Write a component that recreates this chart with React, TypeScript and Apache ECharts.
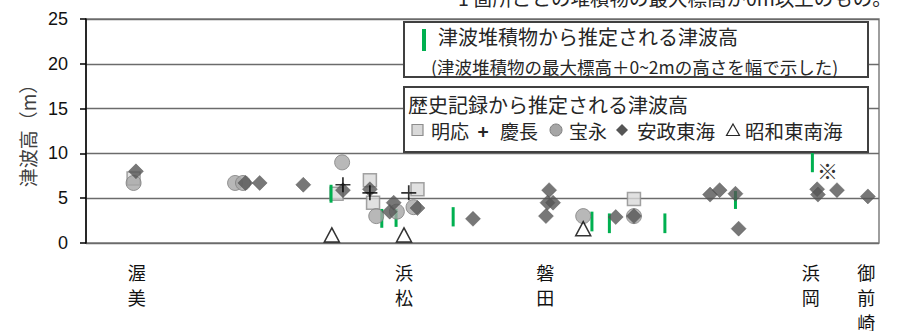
import React, { useEffect, useRef } from "react";
import * as echarts from "echarts";

// positions along the coast (0 = west edge of chart, 100 = east edge)
const placeNames = ["渥美", "浜松", "磐田", "浜岡", "御前崎"];
const placePos = [6.4, 40.1, 57.9, 91.4, 98.4];

const yTicks = [0, 5, 10, 15, 20, 25];

// [position, height(m)]
const meiou: number[][] = [
  [6.0, 7.2], [31.6, 5.5], [35.8, 7.0], [36.2, 4.5], [41.8, 6.0], [69.1, 4.9],
];
const keichou: number[][] = [
  [32.4, 6.5], [35.8, 5.6], [40.7, 5.6],
];
const houei: number[][] = [
  [6.0, 6.7], [18.8, 6.7], [19.8, 6.7], [32.3, 9.0], [36.6, 3.0], [39.2, 3.5],
  [41.3, 4.0], [62.7, 3.0], [69.1, 3.0],
];
const ansei: number[][] = [
  [6.3, 8.0], [20.1, 6.7], [21.9, 6.7], [27.4, 6.5], [32.4, 5.9], [35.8, 6.0],
  [38.3, 3.5], [38.8, 4.5], [41.8, 3.9], [48.8, 2.7], [58.4, 5.9], [58.2, 4.5],
  [58.9, 4.5], [58.0, 3.0], [66.8, 2.9], [69.1, 3.0], [78.7, 5.4], [79.9, 5.9],
  [81.9, 5.5], [82.3, 1.6], [92.2, 6.0], [92.3, 5.4], [94.7, 5.9], [98.6, 5.2],
];
const showa: number[][] = [
  [31.0, 0.9], [40.1, 0.9], [62.7, 1.6],
];
// [position, low, high] tsunami deposit range
const deposit: number[][] = [
  [30.9, 4.5, 6.5], [37.3, 1.7, 3.8], [39.1, 1.8, 3.8], [46.3, 1.85, 4.0],
  [63.8, 1.3, 3.5], [66.0, 1.1, 3.3], [73.0, 1.1, 3.3], [81.9, 3.8, 5.8],
  [91.6, 7.9, 10.1],
];
const noteMark: number[][] = [[93.5, 8.2]];

const CJK = '"Noto Sans CJK JP", "Noto Sans", sans-serif';
const NUM = '"Liberation Sans", Arial, sans-serif';
const TXT = "#262626";

export default function App() {
  const ref = useRef<HTMLDivElement>(null);
  useEffect(() => {
    if (!ref.current) return;
    const chart = echarts.init(ref.current, null, { renderer: "svg" });
    const legendY2 = 130;
    const option: any = {
      animation: false,
      backgroundColor: "#fff",
      grid: {
        left: 86, right: 18, top: 19, bottom: 88,
        containLabel: false, outerBoundsMode: "none",
        show: true, borderColor: "#7f7f7f", borderWidth: 1.5,
      },
      xAxis: {
        type: "value", min: 0, max: 100,
        axisLine: { show: false }, axisTick: { show: false },
        splitLine: { show: false },
        axisLabel: {
          show: true,
          customValues: placePos,
          margin: 16,
          fontFamily: CJK, fontSize: 18, lineHeight: 25, color: "#111",
          formatter: (v: number) => {
            let best = 0;
            placePos.forEach((p, i) => { if (Math.abs(p - v) < Math.abs(placePos[best] - v)) best = i; });
            return placeNames[best].split("").join("\n");
          },
        },
      },
      yAxis: {
        type: "value", min: 0, max: 25, interval: 5,
        name: "津波高（m）", nameLocation: "middle", nameGap: 48, nameRotate: 90,
        nameTextStyle: { fontFamily: CJK, fontSize: 19, color: "#404040" },
        axisLine: { show: true, lineStyle: { color: "#000", width: 1.5 } },
        axisTick: { show: true, length: 6, lineStyle: { color: "#000", width: 1.5 } },
        axisLabel: {
          margin: 18, fontFamily: NUM, fontSize: 18, color: "#111",
          formatter: (v: number) => (yTicks.includes(v) ? String(v) : ""),
        },
        splitLine: { show: true, lineStyle: { color: "#6b6b6b", width: 1.4 } },
      },
      series: [
        {
          type: "scatter", name: "明応", data: meiou, z: 2,
          symbol: "rect", symbolSize: 13,
          itemStyle: { color: "#d9d9d9", borderColor: "#8c8c8c", borderWidth: 1.5 },
        },
        {
          type: "custom", name: "津波堆積物", data: deposit, z: 3,
          encode: { x: 0, y: [1, 2] },
          itemStyle: { color: "#00b050" },
          renderItem: (params: any, api: any) => {
            const a = api.coord([api.value(0), api.value(2)]);
            const b = api.coord([api.value(0), api.value(1)]);
            return {
              type: "line",
              shape: { x1: a[0], y1: a[1], x2: b[0], y2: b[1] },
              style: { stroke: "#00b050", lineWidth: 3 },
            };
          },
        },
        {
          type: "scatter", name: "宝永", data: houei, z: 4,
          symbol: "circle", symbolSize: 15,
          itemStyle: { color: "#a6a6a6", borderColor: "#7f7f7f", borderWidth: 1 },
        },
        {
          type: "scatter", name: "安政東海", data: ansei, z: 5,
          symbol: "diamond", symbolSize: 15,
          itemStyle: { color: "#555555", borderColor: "#4d4d4d", borderWidth: 0.5 },
        },
        {
          type: "scatter", name: "昭和東南海", data: showa, z: 6,
          symbol: "triangle", symbolSize: [15, 14],
          itemStyle: { color: "#fff", borderColor: "#000", borderWidth: 1.5 },
        },
        {
          type: "scatter", name: "慶長", data: keichou, z: 7,
          symbol: "path://M6.2,0h1.6v6.2h6.2v1.6h-6.2v6.2h-1.6v-6.2h-6.2v-1.6h6.2z",
          symbolSize: 15, symbolKeepAspect: true,
          itemStyle: { color: "#000" },
        },
        {
          type: "custom", name: "注", data: noteMark, z: 7,
          encode: { x: 0, y: 1 },
          itemStyle: { color: "#333333" },
          renderItem: (params: any, api: any) => {
            const p = api.coord([api.value(0), api.value(1)]);
            return {
              type: "text", x: p[0], y: p[1],
              style: { text: "※", fontFamily: CJK, fontSize: 21, fill: "#333333", align: "center", verticalAlign: "middle" },
            };
          },
        },
      ],
      graphic: [
        {
          type: "text", right: 5, top: -12, z: 100,
          style: { text: "1 箇所ごとの堆積物の最大標高が0m以上のもの。", fontFamily: CJK, fontSize: 19.5, fill: TXT },
        },
        {
          type: "rect", z: 100,
          shape: { x: 404, y: 22, width: 464, height: 55 },
          style: { fill: "#fff", stroke: "#404040", lineWidth: 2 },
        },
        {
          type: "rect", z: 101,
          shape: { x: 422, y: 29, width: 4, height: 22 },
          style: { fill: "#00b050" },
        },
        {
          type: "text", x: 438, y: 36, z: 101,
          style: { text: "津波堆積物から推定される津波高", fontFamily: CJK, fontSize: 20, fill: TXT, verticalAlign: "middle" },
        },
        {
          type: "text", x: 431, y: 66, z: 101,
          style: { text: "(津波堆積物の最大標高＋0~2mの高さを幅で示した)", fontFamily: CJK, fontSize: 17.5, fill: TXT, verticalAlign: "middle" },
        },
        {
          type: "rect", z: 100,
          shape: { x: 404, y: 87, width: 464, height: 65 },
          style: { fill: "#fff", stroke: "#404040", lineWidth: 2 },
        },
        {
          type: "text", x: 408, y: 104, z: 101,
          style: { text: "歴史記録から推定される津波高", fontFamily: CJK, fontSize: 20, fill: TXT, verticalAlign: "middle" },
        },
        {
          type: "rect", z: 101,
          shape: { x: 412, y: legendY2 - 5.5, width: 11, height: 11 },
          style: { fill: "#d9d9d9", stroke: "#8c8c8c", lineWidth: 1.2 },
        },
        {
          type: "text", x: 431, y: legendY2, z: 101,
          style: { text: "明応", fontFamily: CJK, fontSize: 19, fill: TXT, verticalAlign: "middle" },
        },
        {
          type: "text", x: 483, y: legendY2, z: 101,
          style: { text: "+", fontFamily: CJK, fontSize: 19, fontWeight: "bold", fill: TXT, align: "center", verticalAlign: "middle" },
        },
        {
          type: "text", x: 500, y: legendY2, z: 101,
          style: { text: "慶長", fontFamily: CJK, fontSize: 19, fill: TXT, verticalAlign: "middle" },
        },
        {
          type: "circle", z: 101,
          shape: { cx: 556, cy: legendY2, r: 6 },
          style: { fill: "#a6a6a6", stroke: "#7f7f7f", lineWidth: 1 },
        },
        {
          type: "text", x: 569, y: legendY2, z: 101,
          style: { text: "宝永", fontFamily: CJK, fontSize: 19, fill: TXT, verticalAlign: "middle" },
        },
        {
          type: "polygon", z: 101,
          shape: { points: [[622, legendY2 - 6], [628, legendY2], [622, legendY2 + 6], [616, legendY2]] },
          style: { fill: "#555555" },
        },
        {
          type: "text", x: 637, y: legendY2, z: 101,
          style: { text: "安政東海", fontFamily: CJK, fontSize: 19.5, fill: TXT, verticalAlign: "middle" },
        },
        {
          type: "polygon", z: 101,
          shape: { points: [[733, legendY2 - 6], [739.5, legendY2 + 5.5], [726.5, legendY2 + 5.5]] },
          style: { fill: "#fff", stroke: "#262626", lineWidth: 1.2 },
        },
        {
          type: "text", x: 745, y: legendY2, z: 101,
          style: { text: "昭和東南海", fontFamily: CJK, fontSize: 19.5, fill: TXT, verticalAlign: "middle" },
        },
      ],
    };
    chart.setOption(option);
    return () => chart.dispose();
  }, []);
  return (
    <div
      ref={ref}
      style={{ position: "fixed", left: 0, top: 0, width: 897, height: 331, background: "#fff" }}
    />
  );
}
